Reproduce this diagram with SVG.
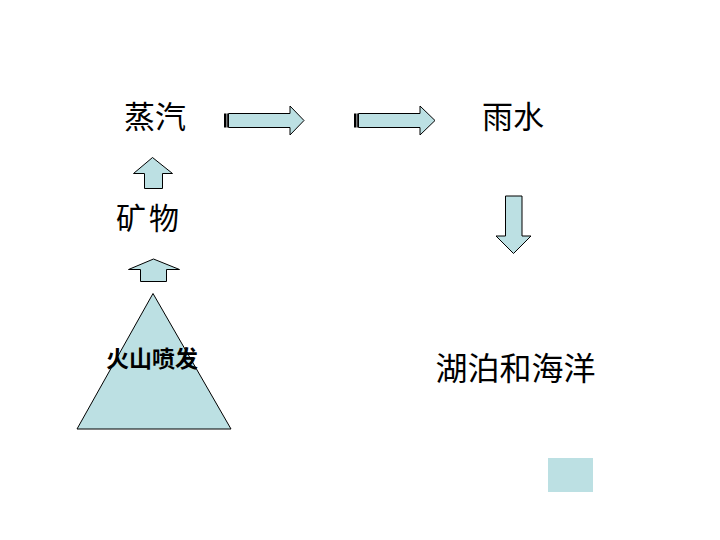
<svg xmlns="http://www.w3.org/2000/svg" width="720" height="540" viewBox="0 0 720 540">
<style>
.s{fill:#BCE0E3;stroke:#000;stroke-width:1}
.t{font-family:"Noto Sans CJK SC","Noto Sans",sans-serif;fill:#000;text-anchor:middle}
</style>
<rect width="720" height="540" fill="#fff"/>
<g id="connectors">
  <g id="arrow-right-1">
    <rect x="224" y="113.5" width="2.5" height="14" fill="#000"/>
    <rect x="227.2" y="113.5" width="0.8" height="14" fill="#000"/>
    <polygon class="s" points="228.5,113.5 290,113.5 290,106 304,120.5 290,135 290,127.5 228.5,127.5"/>
  </g>
  <g id="arrow-right-2">
    <rect x="354" y="113.5" width="2.5" height="14" fill="#000"/>
    <rect x="357.2" y="113.5" width="0.8" height="14" fill="#000"/>
    <polygon class="s" points="358.5,113.5 420,113.5 420,106 435,120.5 420,135 420,127.5 358.5,127.5"/>
  </g>
  <polygon id="arrow-up-1" class="s" points="144.5,188.5 144.5,173.5 133.5,173.5 152.5,157.5 172.5,173.5 162.5,173.5 162.5,188.5"/>
  <polygon id="arrow-up-2" class="s" points="140.5,281.5 140.5,269.5 128.5,269.5 153.5,259 179.5,269.5 166.5,269.5 166.5,281.5"/>
  <polygon id="arrow-down" class="s" points="505.5,196 522,196 522,236 531,236 513.5,253.5 496,236 505.5,236"/>
</g>
<g id="node-volcano">
  <polygon class="s" points="153,293.5 77,429 231,429"/>
  <text class="t" x="152" y="367" font-size="23" font-weight="bold">火山喷发</text>
</g>
<g id="node-steam"><text class="t" x="155" y="128" font-size="31">蒸汽</text></g>
<g id="node-minerals"><text class="t" x="149" y="229" font-size="30" letter-spacing="3">矿物</text></g>
<g id="node-rain"><text class="t" x="513" y="128" font-size="31">雨水</text></g>
<g id="node-lakes"><text class="t" x="515.5" y="380" font-size="32">湖泊和海洋</text></g>
<rect id="swatch" x="548" y="458" width="45" height="34" fill="#BCE0E3"/>
</svg>
